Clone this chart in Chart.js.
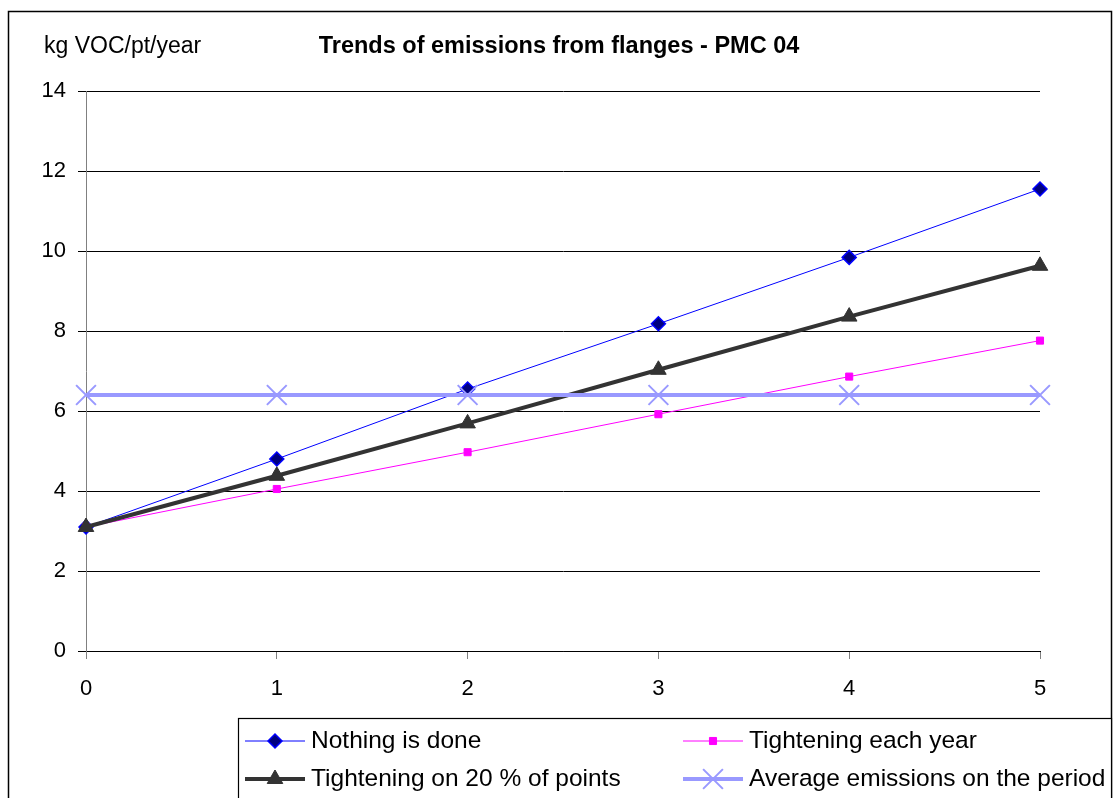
<!DOCTYPE html>
<html>
<head>
<meta charset="utf-8">
<title>Trends of emissions from flanges - PMC 04</title>
<script src="https://cdn.jsdelivr.net/npm/chart.js@4/dist/chart.umd.min.js"></script>
<style>
  html, body { margin: 0; padding: 0; background: #fff; }
  #wrap { position: absolute; left: 0; top: 0; width: 1114px; height: 798px; }
</style>
</head>
<body>
<div id="wrap"><canvas id="chart"></canvas></div>
<script>
// years after the start of the programme
const years = ['0', '1', '2', '3', '4', '5'];

// kg VOC per point per year
const nothingDone = [3.1, 4.8, 6.55, 8.18, 9.84, 11.55];
const tighteningEachYear = [3.1, 4.05, 4.97, 5.92, 6.86, 7.76];
const tighteningTwenty = [3.1, 4.38, 5.69, 7.03, 8.36, 9.63];
const averagePeriod = [6.4, 6.4, 6.4, 6.4, 6.4, 6.4];

const yTicks = [0, 2, 4, 6, 8, 10, 12, 14];

const seriesNames = [
  'Nothing is done',
  'Tightening each year',
  'Tightening on 20 % of points',
  'Average emissions on the period'
];

const chartTitle = 'Trends of emissions from flanges - PMC 04';
const unitLabel = 'kg VOC/pt/year';

const FONT = "'Liberation Sans', Arial, sans-serif";

// frame, titles and legend box drawn around the plot
const framePlugin = {
  id: 'frame',
  afterDraw(chart) {
    const ctx = chart.ctx;
    ctx.save();
    ctx.strokeStyle = '#000';
    ctx.lineWidth = 1.5;
    ctx.strokeRect(8.5, 11.5, 1103, 800);

    ctx.fillStyle = '#000';
    ctx.textBaseline = 'middle';
    ctx.font = '23px ' + FONT;
    ctx.textAlign = 'left';
    ctx.fillText(unitLabel, 44, 47);
    ctx.font = 'bold 23.5px ' + FONT;
    ctx.textAlign = 'center';
    ctx.fillText(chartTitle, 559, 47);

    // legend
    ctx.lineWidth = 1.2;
    ctx.fillStyle = '#fff';
    ctx.fillRect(238.5, 718.5, 873, 90);
    ctx.strokeRect(238.5, 718.5, 873, 90);

    const slots = [
      { x: 245, y: 741 }, { x: 683, y: 741 },
      { x: 245, y: 779 }, { x: 683, y: 779 }
    ];
    chart.data.datasets.forEach((ds, i) => {
      const s = slots[i];
      ctx.strokeStyle = ds.borderColor;
      ctx.lineWidth = ds.borderWidth;
      ctx.beginPath();
      ctx.moveTo(s.x, s.y);
      ctx.lineTo(s.x + 60, s.y);
      ctx.stroke();
      ctx.fillStyle = ds.pointBackgroundColor;
      ctx.strokeStyle = ds.pointBorderColor;
      ctx.lineWidth = ds.pointBorderWidth;
      Chart.helpers.drawPoint(ctx, {
        pointStyle: ds.pointStyle,
        radius: ds.pointRadius,
        rotation: 0,
        borderWidth: ds.pointBorderWidth
      }, s.x + 30, s.y);
      ctx.fillStyle = '#000';
      ctx.font = '24.5px ' + FONT;
      ctx.textAlign = 'left';
      ctx.textBaseline = 'middle';
      ctx.fillText(ds.label, s.x + 66, s.y);
    });
    ctx.restore();
  }
};

new Chart(document.getElementById('chart'), {
  type: 'line',
  data: {
    labels: years,
    datasets: [
      {
        label: seriesNames[0],
        data: nothingDone,
        borderColor: '#0000ff',
        borderWidth: 1,
        pointStyle: 'rectRot',
        pointRadius: 7,
        pointBackgroundColor: '#000080',
        pointBorderColor: '#0000ff',
        pointBorderWidth: 1.5,
        order: 4
      },
      {
        label: seriesNames[1],
        data: tighteningEachYear,
        borderColor: '#ff00ff',
        borderWidth: 1,
        pointStyle: 'rect',
        pointRadius: 5,
        pointBackgroundColor: '#ff00ff',
        pointBorderColor: '#ff00ff',
        pointBorderWidth: 1,
        order: 3
      },
      {
        label: seriesNames[2],
        data: tighteningTwenty,
        borderColor: '#333333',
        borderWidth: 4,
        pointStyle: 'triangle',
        pointRadius: 9,
        pointBackgroundColor: '#333333',
        pointBorderColor: '#333333',
        pointBorderWidth: 1,
        order: 2
      },
      {
        label: seriesNames[3],
        data: averagePeriod,
        borderColor: '#9999ff',
        borderWidth: 4,
        pointStyle: 'crossRot',
        pointRadius: 14,
        pointBackgroundColor: '#9999ff',
        pointBorderColor: '#9999ff',
        pointBorderWidth: 2,
        order: 1
      }
    ]
  },
  options: {
    responsive: true,
    maintainAspectRatio: false,
    animation: false,
    devicePixelRatio: 1,
    layout: { padding: { top: 91, left: 0, right: 74, bottom: 0 } },
    elements: { line: { tension: 0 } },
    datasets: { line: { clip: false } },
    plugins: {
      legend: { display: false },
      title: { display: false },
      tooltip: { enabled: false }
    },
    scales: {
      x: {
        type: 'category',
        offset: false,
        afterFit(scale) { scale.height = 147; },
        grid: {
          drawOnChartArea: false,
          drawTicks: true,
          tickLength: 8,
          tickColor: '#808080'
        },
        border: { color: '#000', width: 1 },
        ticks: {
          color: '#000',
          padding: 17,
          maxRotation: 0,
          font: { family: FONT, size: 22 }
        }
      },
      y: {
        min: 0,
        max: 14,
        afterFit(scale) { scale.width = 86; },
        afterBuildTicks(scale) { scale.ticks = yTicks.map(v => ({ value: v })); },
        grid: {
          color: '#000',
          lineWidth: 1,
          tickLength: 8,
          tickColor: '#000'
        },
        border: { color: '#808080', width: 1 },
        ticks: {
          color: '#000',
          padding: 12,
          font: { family: FONT, size: 22 }
        }
      }
    }
  },
  plugins: [framePlugin]
});
</script>
</body>
</html>
